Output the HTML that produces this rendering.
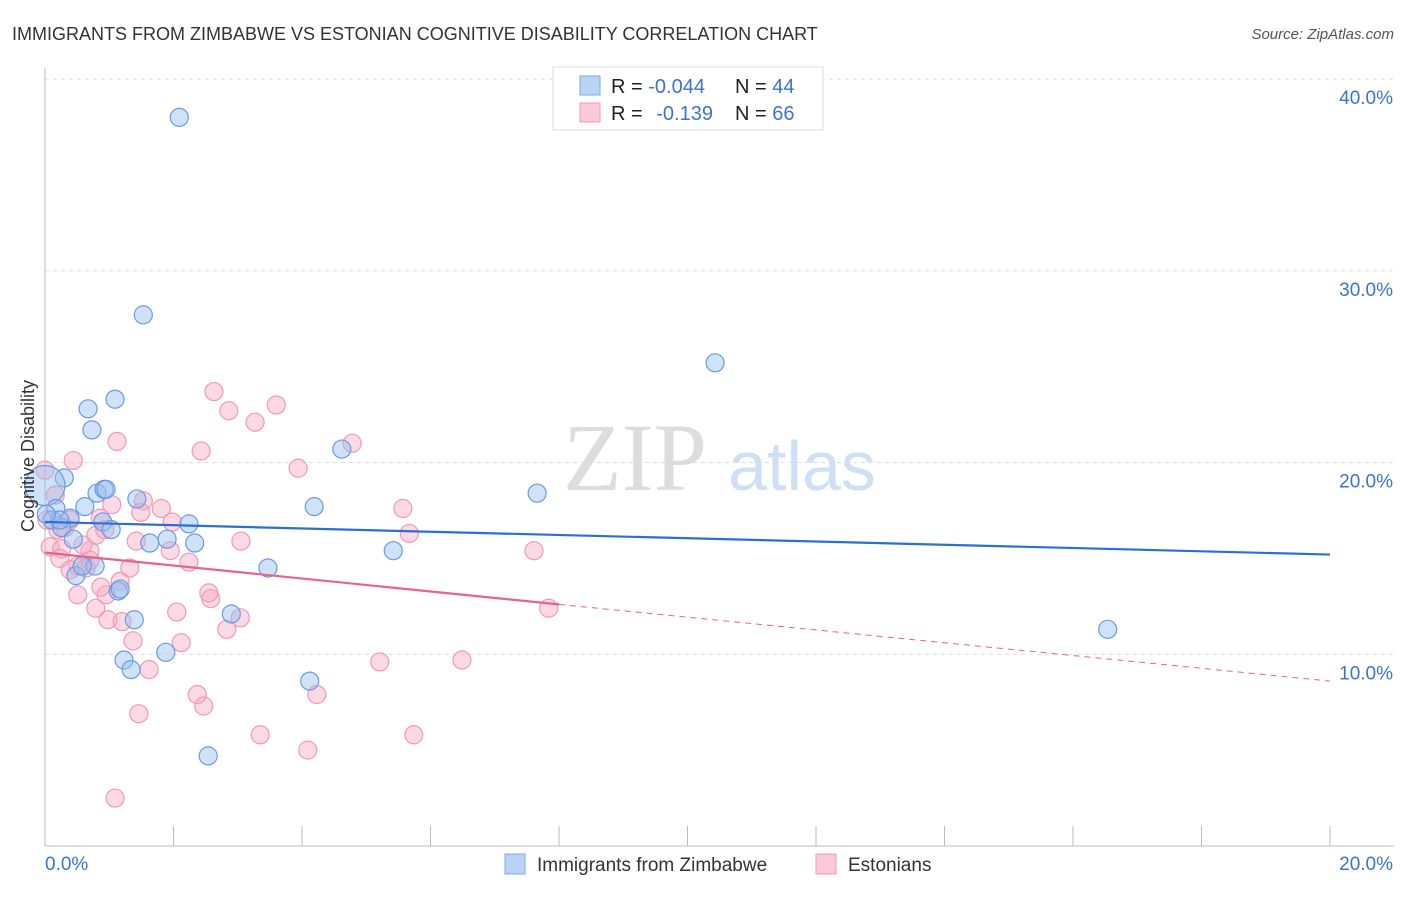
<!DOCTYPE html>
<html><head><meta charset="utf-8"><style>
body{margin:0;background:#fff;font-family:"Liberation Sans",sans-serif}
svg text{font-family:"Liberation Sans",sans-serif}
</style></head><body>
<svg width="1406" height="892" id="c">
<text x="12" y="40" font-size="18" fill="#333">IMMIGRANTS FROM ZIMBABWE VS ESTONIAN COGNITIVE DISABILITY CORRELATION CHART</text>
<text x="1394" y="39" font-size="15" fill="#555" text-anchor="end" font-style="italic">Source: ZipAtlas.com</text>
<g>
<text x="635" y="490" font-size="96" fill="#ddd" font-family="Liberation Serif" text-anchor="middle" style="font-family:'Liberation Serif',serif">ZIP</text>
<text x="802" y="490" font-size="70" fill="#cfe0f4" text-anchor="middle">atlas</text>
</g>
<g id="grid"></g><g id="axes"></g><g id="pts"></g><g id="trend"></g>
<text transform="translate(34,456) rotate(-90)" font-size="18" fill="#333" text-anchor="middle">Cognitive Disability</text>
<g>
<rect x="553" y="67" width="270" height="63" fill="#fff" stroke="#ddd"/>
<rect x="580" y="76" width="20" height="19" fill="#b9d3f5" stroke="#7fa9e6"/>
<rect x="580" y="103" width="20" height="19" fill="#fcc9d8" stroke="#f09ab4"/>
<text x="611" y="93" font-size="20" fill="#222">R = <tspan fill="#3a74d0">-0.044</tspan></text>
<text x="735" y="93" font-size="20" fill="#222">N = <tspan fill="#3a74d0">44</tspan></text>
<text x="611" y="120" font-size="20" fill="#222">R = <tspan fill="#3a74d0" dx="8">-0.139</tspan></text>
<text x="735" y="120" font-size="20" fill="#222">N = <tspan fill="#3a74d0">66</tspan></text>
</g>
<g>
<rect x="505" y="854" width="20" height="20" fill="#b9d3f5" stroke="#7fa9e6"/>
<text x="537" y="871" font-size="19" fill="#333">Immigrants from Zimbabwe</text>
<rect x="816" y="854" width="20" height="20" fill="#fcc9d8" stroke="#f09ab4"/>
<text x="848" y="871" font-size="19" fill="#333">Estonians</text>
</g>
</svg>
<script>
const yTicks=[10,20,30,40];
const yTickLabels=["10.0%","20.0%","30.0%","40.0%"];
const xTicks=[0,2,4,6,8,10,12,14,16,18,20];
const blueX=[2.09,1.53,10.43,0.67,1.09,0.73,4.62,0.30,0.0,0.81,0.92,0.95,1.43,0.62,0.17,4.19,7.66,0.39,0.11,0.90,1.03,2.24,0.26,0.44,1.63,1.90,2.33,5.42,3.47,0.78,0.48,1.14,1.39,2.90,16.54,1.23,1.34,1.88,4.12,2.54,0.23,0.58,1.17,0.02];
const blueY=[38.0,27.7,25.2,22.8,23.3,21.7,20.7,19.2,18.8,18.4,18.6,18.6,18.1,17.7,17.6,17.7,18.4,17.1,17.0,16.9,16.5,16.8,16.6,16.0,15.8,16.0,15.8,15.4,14.5,14.6,14.1,13.3,11.8,12.1,11.3,9.7,9.2,10.1,8.6,4.7,17.0,14.6,13.4,17.3];
const pinkX=[0.44,1.12,2.43,2.63,2.86,3.27,3.60,3.94,4.78,5.57,5.67,7.61,7.84,6.49,5.21,5.74,4.23,4.09,3.35,2.47,2.37,1.46,1.09,1.62,2.12,2.83,2.58,2.55,2.05,1.37,1.20,0.98,0.95,1.17,0.79,0.51,0.87,0.70,0.64,0.51,1.04,1.53,1.81,1.98,1.49,1.42,1.95,2.24,3.05,0.86,0.79,0.39,0.20,0.08,0.26,0.03,0.39,0.16,0.31,0.70,0.59,1.32,0.93,0.0,0.23,3.04];
const pinkY=[20.1,21.1,20.6,23.7,22.7,22.1,23.0,19.7,21.0,17.6,16.3,15.4,12.4,9.7,9.6,5.8,7.9,5.0,5.8,7.3,7.9,6.9,2.5,9.2,10.6,11.3,12.9,13.2,12.2,10.7,11.7,11.8,13.1,13.8,12.4,13.1,13.5,15.4,14.5,14.6,17.8,18.0,17.6,16.9,17.4,15.9,15.4,14.8,15.9,17.1,16.2,17.0,16.5,15.6,15.5,17.0,14.4,18.3,16.6,14.9,15.7,14.5,16.5,19.6,15.0,11.9];
const blueTrend=[0,16.9,20,15.2];
const pinkTrend=[0,15.3,8,12.6,20,8.6];
const X0=45,X1=1330,Y0=846,PY=19.175;
const sx=v=>X0+(X1-X0)*v/20, sy=v=>Y0-PY*v;
const NS="http://www.w3.org/2000/svg";
function mk(p,t,a){const e=document.createElementNS(NS,t);for(const k in a)e.setAttribute(k,a[k]);document.getElementById(p).appendChild(e);return e;}
yTicks.forEach((t,i)=>{const l=mk('grid','line',{x1:X0,x2:1394,y1:sy(t),y2:sy(t),stroke:'#ddd','stroke-dasharray':'4,4'});


const tx=mk('grid','text',{x:1393,y:sy(t)+25,'font-size':19,fill:'#3a74d0','text-anchor':'end'});tx.textContent=yTickLabels[i];

});
mk('grid','line',{x1:X0,x2:1394,y1:79,y2:79,stroke:'#ddd','stroke-dasharray':'4,4'});
const ax=mk('axes','line',{x1:X0,x2:1394,y1:Y0,y2:Y0,stroke:'#bbb'});


const ay=mk('axes','line',{x1:X0,x2:X0,y1:68,y2:Y0,stroke:'#bbb'});


xTicks.forEach(t=>{const l=mk('axes','line',{x1:sx(t),x2:sx(t),y1:826,y2:Y0,stroke:'#bbb'});

});
const xl0=mk('axes','text',{x:45,y:870,'font-size':19,fill:'#3a74d0'});xl0.textContent='0.0%';


const xl1=mk('axes','text',{x:1393,y:870,'font-size':19,fill:'#3a74d0','text-anchor':'end'});xl1.textContent='20.0%';


pinkX.forEach((x,i)=>{const c=mk('pts','circle',{cx:sx(x),cy:sy(pinkY[i]),r:9,fill:'rgba(248,170,195,0.45)',stroke:'#f09ab4','stroke-width':1.2});

});
blueX.forEach((x,i)=>{const c=mk('pts','circle',{cx:sx(x),cy:sy(blueY[i]),r:(i==8?20:9),fill:'rgba(150,190,240,0.45)',stroke:'#6a9be0','stroke-width':1.2});

});
const bt=mk('trend','line',{x1:sx(blueTrend[0]),y1:sy(blueTrend[1]),x2:sx(blueTrend[2]),y2:sy(blueTrend[3]),stroke:'#2a6fd6','stroke-width':2.2});


const pt=mk('trend','line',{x1:sx(pinkTrend[0]),y1:sy(pinkTrend[1]),x2:sx(pinkTrend[2]),y2:sy(pinkTrend[3]),stroke:'#e8628f','stroke-width':2.2});


const pd=mk('trend','line',{x1:sx(pinkTrend[2]),y1:sy(pinkTrend[3]),x2:sx(pinkTrend[4]),y2:sy(pinkTrend[5]),stroke:'#e8628f','stroke-width':1,'stroke-dasharray':'6,5'});


</script>
</body></html>
